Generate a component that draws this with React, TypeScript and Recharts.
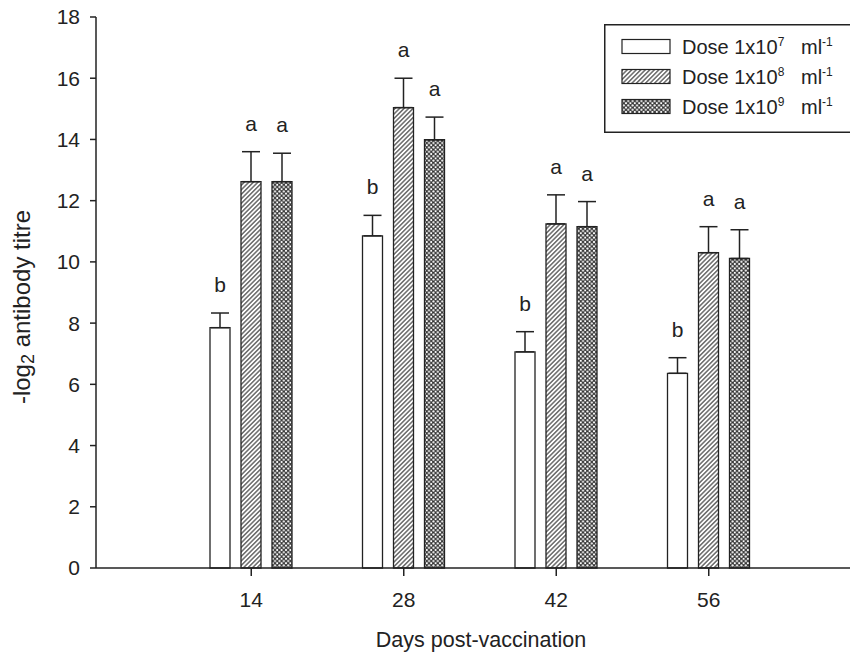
import React from 'react';
import { BarChart, Bar, XAxis, YAxis, ErrorBar, LabelList, Legend } from 'recharts';

const days = ['14', '28', '42', '56'];
const dose7 = [7.85, 10.85, 7.06, 6.36];
const dose8 = [12.62, 15.04, 11.24, 10.3];
const dose9 = [12.62, 13.99, 11.15, 10.11];
const err7 = [0.48, 0.67, 0.66, 0.51];
const err8 = [0.98, 0.96, 0.95, 0.85];
const err9 = [0.93, 0.74, 0.82, 0.94];
const letters7 = ['b', 'b', 'b', 'b'];
const letters8 = ['a', 'a', 'a', 'a'];
const letters9 = ['a', 'a', 'a', 'a'];
const yTicks = [0, 2, 4, 6, 8, 10, 12, 14, 16, 18];
const legendExp = ['7', '8', '9'];
const legendGap = ['\u00a0\u00a0\u00a0', '\u00a0\u00a0\u00a0', '\u00a0\u00a0\u00a0'];

const data = days.map((d, i) => ({
  day: d,
  v7: dose7[i],
  v8: dose8[i],
  v9: dose9[i],
  e7: [0, err7[i]],
  e8: [0, err8[i]],
  e9: [0, err9[i]],
  l7: letters7[i],
  l8: letters8[i],
  l9: letters9[i],
}));

const FONT = '"Liberation Sans", Arial, Helvetica, sans-serif';
const INK = '#222';

const Patterns = ({ prefix }: { prefix: string }) => (
  <defs>
    <pattern id={`${prefix}hatch`} patternUnits="userSpaceOnUse" width={3.2} height={3.2} patternTransform="rotate(45)">
      <rect width={3.2} height={3.2} fill="#fff" />
      <line x1={0.8} y1={0} x2={0.8} y2={3.2} stroke="#333" strokeWidth={1.1} />
    </pattern>
    <pattern id={`${prefix}cross`} patternUnits="userSpaceOnUse" width={4.4} height={4.4}>
      <rect width={4.4} height={4.4} fill="#333" />
      <circle cx={0} cy={0} r={1.1} fill="#fff" />
      <circle cx={4.4} cy={0} r={1.1} fill="#fff" />
      <circle cx={0} cy={4.4} r={1.1} fill="#fff" />
      <circle cx={4.4} cy={4.4} r={1.1} fill="#fff" />
      <circle cx={2.2} cy={2.2} r={1.1} fill="#fff" />
    </pattern>
  </defs>
);

const makeLetter = (vals: number[], errs: number[]) => (props: any) => {
  const { x, y, width, height, index, value } = props;
  const v = vals[index];
  const px = v ? Number(height) / v : 0;
  const capY = Number(y) - errs[index] * px;
  return (
    <text x={Number(x) + Number(width) / 2} y={capY - 21} textAnchor="middle" fontSize={21} fill={INK} fontFamily={FONT}>
      {value}
    </text>
  );
};

const fills = ['#fff', 'url(#lg-hatch)', 'url(#lg-cross)'];

const LegendBox = () => (
  <svg width={246} height={110} style={{ display: 'block' }}>
    <Patterns prefix="lg-" />
    <rect x={0.75} y={0.75} width={260} height={107.5} fill="#fff" stroke={INK} strokeWidth={1.5} />
    {legendExp.map((e, i) => {
      const cy = 22.5 + i * 30;
      return (
        <g key={e}>
          <rect x={18} y={cy - 7} width={48} height={14} fill={fills[i]} stroke={INK} strokeWidth={1.2} />
          <text x={78} y={cy + 7} fontSize={20} fill={INK} fontFamily={FONT} style={{ whiteSpace: 'pre' }}>
            Dose 1x10
            <tspan dy={-8} fontSize={12}>{e}</tspan>
            <tspan dy={8} fontSize={20}>{legendGap[i]}ml</tspan>
            <tspan dy={-8} fontSize={12}>-1</tspan>
          </text>
        </g>
      );
    })}
  </svg>
);

export default function App() {
  return (
    <div style={{ position: 'absolute', left: 0, top: 0, width: 850, height: 657, background: '#fff', overflow: 'hidden' }}>
      <BarChart
        width={850}
        height={657}
        data={data}
        margin={{ top: 17, right: 0, bottom: 0, left: 0 }}
        barSize={20}
        barGap={11}
      >
        <Patterns prefix="ch-" />
        <XAxis
          dataKey="day"
          padding={{ left: 79, right: 65 }}
          height={89}
          tickSize={8}
          tickMargin={16}
          stroke={INK}
          strokeWidth={1.5}
          tick={{ fontSize: 21, fill: INK, fontFamily: FONT }}
          label={{
            content: () => (
              <text x={481} y={647} textAnchor="middle" fontSize={21.5} fill={INK} fontFamily={FONT}>
                Days post-vaccination
              </text>
            ),
          }}
        />
        <YAxis
          domain={[0, 18]}
          ticks={yTicks}
          width={96}
          tickSize={6}
          tickMargin={10}
          stroke={INK}
          strokeWidth={1.5}
          tick={{ fontSize: 21, fill: INK, fontFamily: FONT }}
          label={{
            content: () => (
              <text
                x={21}
                y={307}
                transform="rotate(-90, 21, 307)"
                textAnchor="middle"
                dominantBaseline="central"
                fontSize={24}
                fill={INK}
                fontFamily={FONT}
              >
                -log
                <tspan dy={7} fontSize={18}>2</tspan>
                <tspan dy={-7}> antibody titre</tspan>
              </text>
            ),
          }}
        />
        <Legend
          layout="horizontal"
          verticalAlign="middle"
          align="center"
          content={() => <LegendBox />}
          wrapperStyle={{ position: 'absolute', left: 604, top: 24, width: 246, height: 110 }}
        />
        <Bar dataKey="v7" name="Dose 1x10^7 ml^-1" fill="#fff" stroke={INK} strokeWidth={1.3} isAnimationActive={false}>
          <ErrorBar dataKey="e7" direction="y" width={9} stroke={INK} strokeWidth={1.5} />
          <LabelList dataKey="l7" content={makeLetter(dose7, err7)} />
        </Bar>
        <Bar dataKey="v8" name="Dose 1x10^8 ml^-1" fill="url(#ch-hatch)" stroke={INK} strokeWidth={1.3} isAnimationActive={false}>
          <ErrorBar dataKey="e8" direction="y" width={9} stroke={INK} strokeWidth={1.5} />
          <LabelList dataKey="l8" content={makeLetter(dose8, err8)} />
        </Bar>
        <Bar dataKey="v9" name="Dose 1x10^9 ml^-1" fill="url(#ch-cross)" stroke={INK} strokeWidth={1.3} isAnimationActive={false}>
          <ErrorBar dataKey="e9" direction="y" width={9} stroke={INK} strokeWidth={1.5} />
          <LabelList dataKey="l9" content={makeLetter(dose9, err9)} />
        </Bar>
      </BarChart>
    </div>
  );
}
